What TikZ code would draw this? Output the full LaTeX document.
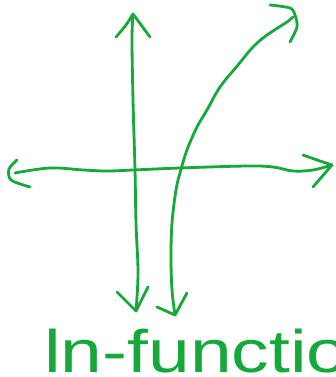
\documentclass[tikz,border=0pt]{standalone}
\usepackage{fontspec}
\setmainfont{Liberation Sans}
\definecolor{pen}{RGB}{22,168,58}
\begin{document}
\begin{tikzpicture}[x=1pt,y=-1pt,
  ink/.style={draw=pen,line width=2.8pt,line cap=round,line join=round}]
\useasboundingbox (0,0) rectangle (335,377);
% vertical axis
\coordinate (vt) at (133,14);
\coordinate (vb) at (136,311);
\draw[ink] plot[smooth,tension=0.6] coordinates {(vt) (132,40) (133,100) (135,170) (136,223) (138,273) (vb)};
\draw[ink] plot[smooth] coordinates {(116,37) (126,25) (vt)};
\draw[ink] (vt) -- (150,37);
\draw[ink] (117,292) -- (vb) -- (148,287);
% horizontal axis
\coordinate (hl) at (15,173);
\coordinate (hr) at (332,165);
\draw[ink] plot[smooth,tension=0.6] coordinates {(hl) (50,168) (83,170) (107,171) (133,170) (180,168) (247,166) (273,167) (293,171) (313,170) (hr)};
\draw[ink] plot[smooth] coordinates {(17,160) (9,169) (11,180) (30,187)};
\draw[ink] plot[smooth] coordinates {(303,155) (320,161) (hr)};
\draw[ink] (hr) -- (313,187);
% curve
\coordinate (ct) at (293,17);
\coordinate (cb) at (175,315);
\draw[ink] plot[smooth,tension=0.6] coordinates {(ct) (287,22) (267,35) (253,47) (238,65) (220,87) (207,110) (197,127) (187,150) (180,173) (176,190) (172,223) (171,257) (172,290) (cb)};
\draw[ink] plot[smooth] coordinates {(270,5) (290,8) (295,15) (297,27) (290,42)};
\draw[ink] (157,307) -- (cb) -- (187,293);
% label
\node[anchor=base west,inner sep=0pt,text=pen,font=\fontsize{60}{60}\selectfont] (lbl) at (44,372) {\scalebox{1.25}[1]{ln-functio}};
\end{tikzpicture}
\end{document}
